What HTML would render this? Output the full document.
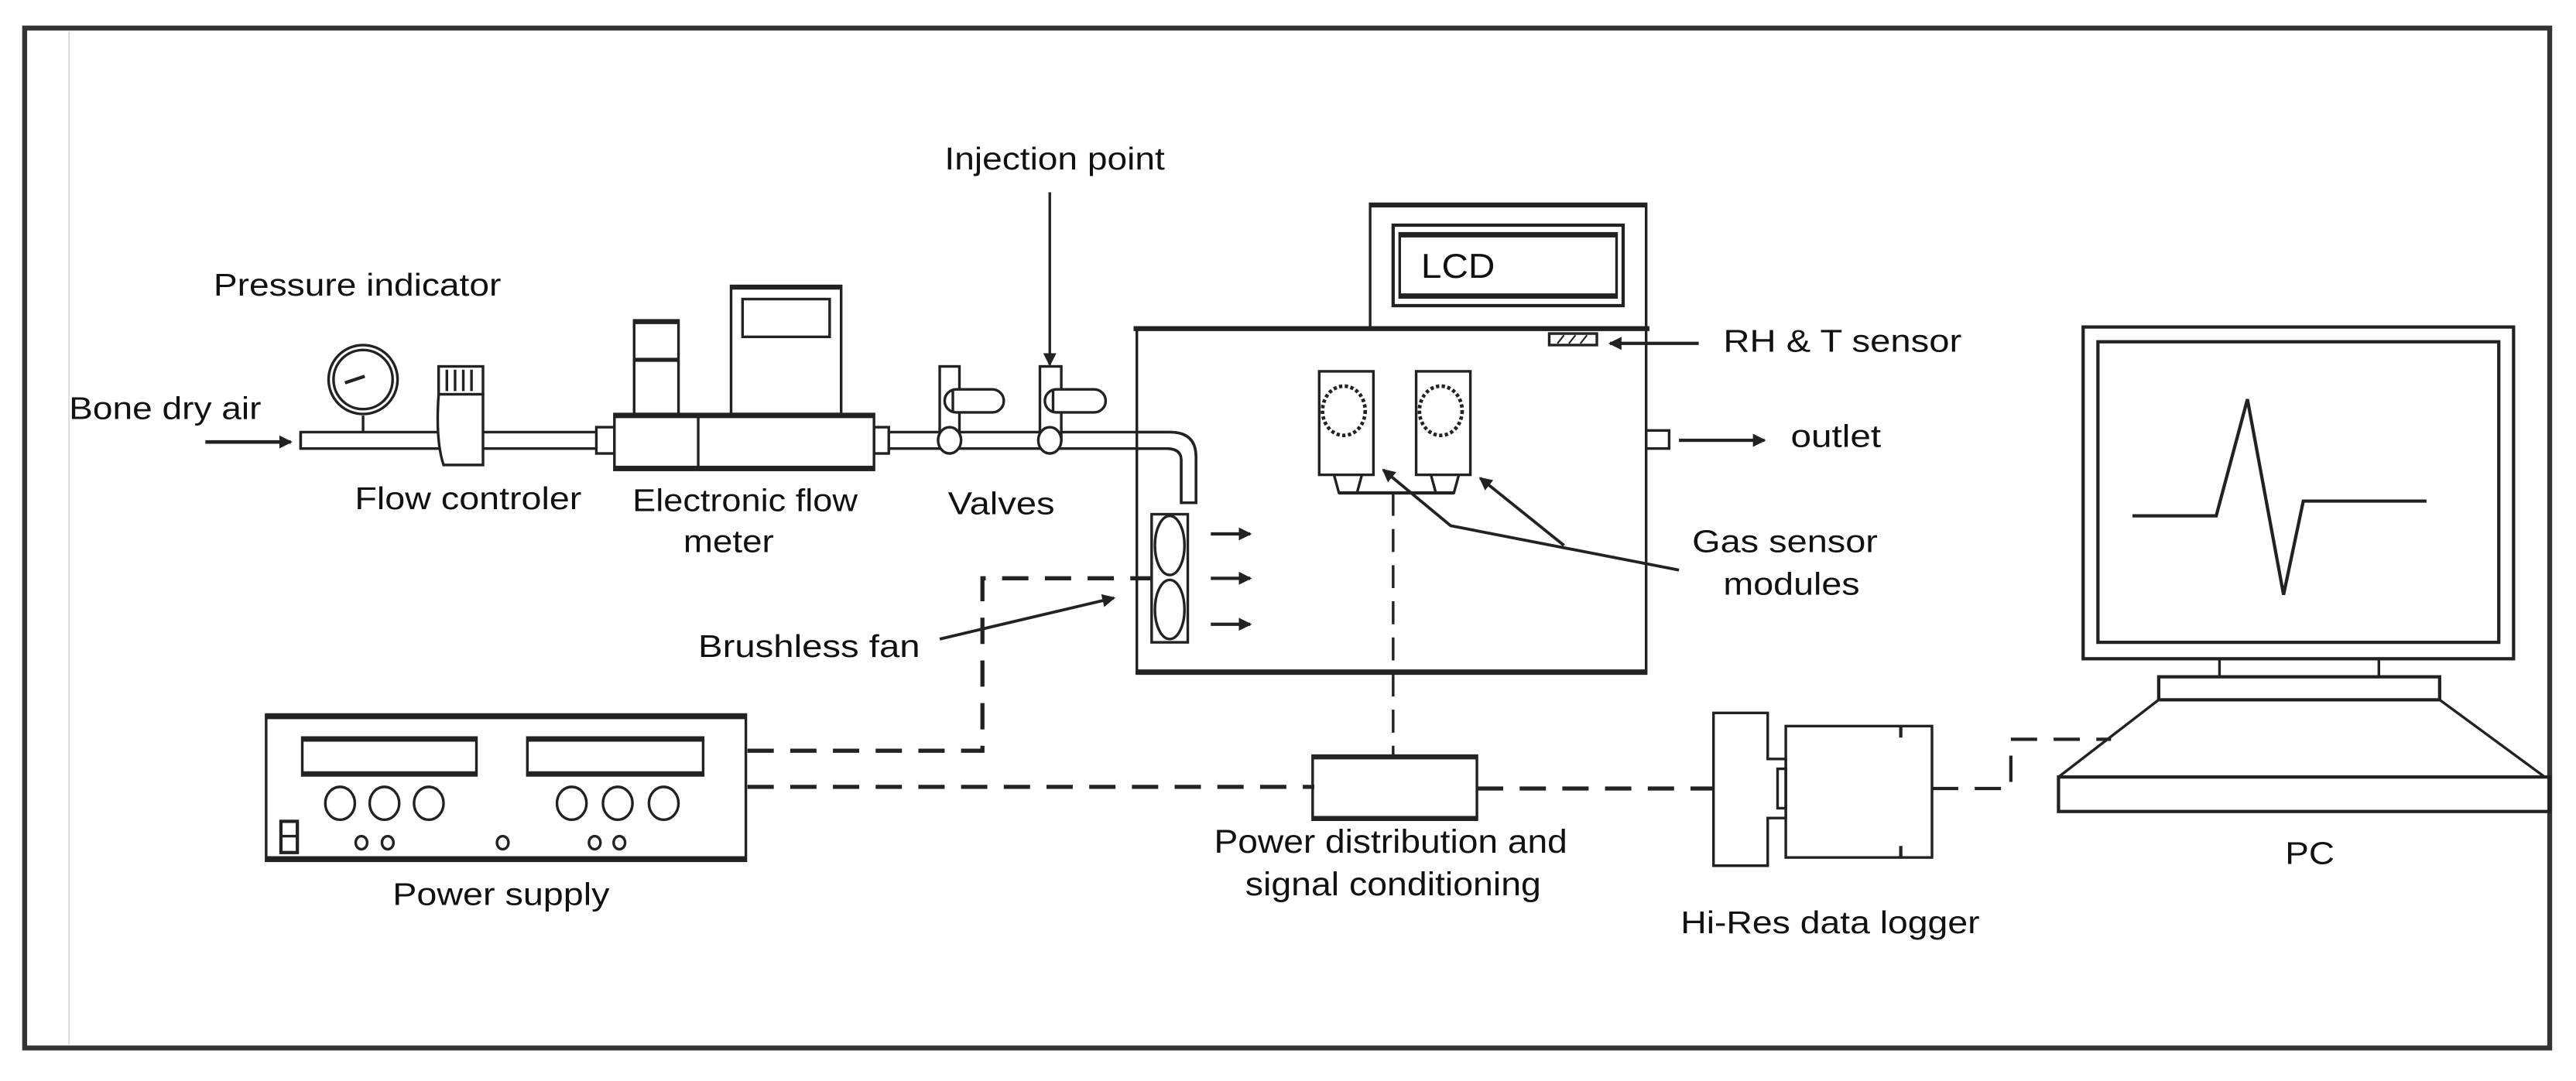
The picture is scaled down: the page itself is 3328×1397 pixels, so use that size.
<!DOCTYPE html>
<html><head><meta charset="utf-8"><style>html,body{margin:0;padding:0;background:#fff}svg{display:block}</style></head>
<body>
<svg width="3328" height="1397" viewBox="0 0 1568 658" xmlns="http://www.w3.org/2000/svg" font-family="Liberation Sans, Arial, sans-serif" font-size="19" fill="none" stroke="#222" stroke-width="1.6">
<defs><marker id="ah" markerWidth="8" markerHeight="8" refX="7" refY="4" orient="auto" markerUnits="userSpaceOnUse"><path d="M0,0 L8,4 L0,8 z" fill="#222" stroke="none"/></marker></defs>
<rect x="0" y="0" width="1568" height="658" fill="#fff" stroke="none"/>
<!-- frame -->
<rect x="15" y="17" width="1537" height="621" stroke="#333" stroke-width="3"/>
<line x1="42" y1="19" x2="42" y2="636" stroke="#ddd" stroke-width="1"/>

<!-- arrows -->
<line x1="639" y1="117" x2="639" y2="222" marker-end="url(#ah)"/>
<line x1="125" y1="269" x2="177" y2="269" stroke-width="2.2" marker-end="url(#ah)"/>

<!-- pipe -->
<path d="M183,263 H712 Q728,263 728,278 V306 H719 V280 Q719,273 710,273 H183 Z" fill="#fff"/>
<line x1="183" y1="263" x2="183" y2="273"/>
<!-- gauge -->
<line x1="221" y1="253" x2="221" y2="263"/>
<circle cx="221" cy="231" r="21" fill="#fff"/>
<circle cx="221" cy="231" r="18"/>
<path d="M210,233 L222,229" stroke-width="2"/>
<!-- flow controller -->
<rect x="267" y="223" width="27" height="17" fill="#fff"/>
<line x1="272" y1="225" x2="272" y2="238"/><line x1="277" y1="225" x2="277" y2="238"/><line x1="282" y1="225" x2="282" y2="238"/><line x1="287" y1="225" x2="287" y2="238"/>
<path d="M267,240 H294 V283 H270 Q265,268 267,240 Z" fill="#fff"/>
<!-- fittings -->
<rect x="363" y="260" width="11" height="16" fill="#fff"/>
<rect x="532" y="260" width="9" height="16" fill="#fff"/>
<!-- flow meter -->
<rect x="386" y="195" width="27" height="57" fill="#fff"/>
<line x1="386" y1="219" x2="413" y2="219" stroke-width="2.5"/>
<line x1="386" y1="196" x2="413" y2="196" stroke-width="2.5"/>
<rect x="445" y="174" width="67" height="78" fill="#fff"/>
<line x1="445" y1="175" x2="512" y2="175" stroke-width="2.5"/>
<rect x="452" y="182" width="53" height="23"/>
<rect x="374" y="252" width="158" height="34" fill="#fff"/>
<line x1="374" y1="253" x2="532" y2="253" stroke-width="3"/>
<line x1="374" y1="285" x2="532" y2="285" stroke-width="3"/>
<line x1="425" y1="252" x2="425" y2="286"/>
<!-- valves -->
<rect x="572" y="223" width="12" height="45" fill="#fff"/>
<rect x="575" y="237" width="36" height="14" rx="7" fill="#fff"/>
<line x1="580" y1="237" x2="580" y2="251"/>
<ellipse cx="578" cy="268" rx="7" ry="8" fill="#fff"/>
<rect x="633" y="223" width="13" height="45" fill="#fff"/>
<rect x="636" y="237" width="37" height="14" rx="7" fill="#fff"/>
<line x1="641" y1="237" x2="641" y2="251"/>
<ellipse cx="639" cy="268" rx="7" ry="8" fill="#fff"/>

<!-- LCD panel -->
<rect x="834" y="124" width="168" height="76" fill="#fff"/>
<line x1="834" y1="125" x2="1002" y2="125" stroke-width="2.5"/>
<rect x="848" y="137" width="140" height="49" stroke-width="2"/>
<rect x="852" y="142" width="132" height="39"/>
<line x1="852" y1="143" x2="984" y2="143" stroke-width="3"/>
<line x1="852" y1="180" x2="984" y2="180" stroke-width="3"/>
<!-- chamber -->
<rect x="692" y="200" width="310" height="210"/>
<line x1="690" y1="200" x2="1004" y2="200" stroke-width="3"/>
<line x1="692" y1="409" x2="1002" y2="409" stroke-width="3"/>
<path d="M692,263 H712 Q728,263 728,278 V306 H719 V280 Q719,273 710,273 H692" />
<!-- RH sensor -->
<rect x="943" y="203" width="29" height="7"/>
<line x1="948" y1="209" x2="952" y2="204" stroke-width="1"/><line x1="955" y1="209" x2="959" y2="204" stroke-width="1"/><line x1="962" y1="209" x2="966" y2="204" stroke-width="1"/>
<line x1="1034" y1="209" x2="980" y2="209" stroke-width="2" marker-end="url(#ah)"/>
<!-- sensor modules -->
<rect x="803" y="226" width="33" height="63"/>
<rect x="862" y="226" width="33" height="63"/>
<ellipse cx="818" cy="250" rx="13" ry="15" stroke-dasharray="2 1.5" stroke-width="2.2"/>
<ellipse cx="877" cy="250" rx="13" ry="15" stroke-dasharray="2 1.5" stroke-width="2.2"/>
<path d="M812,289 L815,300 H826 L829,289 M871,289 L874,300 H885 L888,289"/>
<line x1="815" y1="300" x2="885" y2="300" stroke-width="2"/>
<line x1="848" y1="300" x2="848" y2="460" stroke-dasharray="14 8"/>
<!-- gas sensor arrows -->
<path d="M1022,347 L883,320 L842,286" marker-end="url(#ah)" stroke-width="1.8"/>
<line x1="952" y1="332" x2="901" y2="291" marker-end="url(#ah)" stroke-width="1.8"/>
<!-- outlet -->
<rect x="1002" y="262" width="14" height="11"/>
<line x1="1022" y1="268" x2="1074" y2="268" stroke-width="2" marker-end="url(#ah)"/>
<!-- fan -->
<rect x="701" y="313" width="22" height="78"/>
<ellipse cx="712" cy="332" rx="9" ry="18"/>
<ellipse cx="712" cy="371" rx="9" ry="18"/>
<line x1="737" y1="325" x2="761" y2="325" stroke-width="2" marker-end="url(#ah)"/>
<line x1="737" y1="352" x2="761" y2="352" stroke-width="2" marker-end="url(#ah)"/>
<line x1="737" y1="380" x2="761" y2="380" stroke-width="2" marker-end="url(#ah)"/>
<line x1="572" y1="389" x2="678" y2="364" stroke-width="1.8" marker-end="url(#ah)"/>

<!-- power supply -->
<rect x="162" y="435" width="292" height="89"/>
<line x1="162" y1="436" x2="454" y2="436" stroke-width="3.5"/>
<line x1="162" y1="523" x2="454" y2="523" stroke-width="3.5"/>
<rect x="184" y="449" width="106" height="23"/>
<line x1="184" y1="450" x2="290" y2="450" stroke-width="3"/><line x1="184" y1="471" x2="290" y2="471" stroke-width="3"/>
<rect x="321" y="449" width="107" height="23"/>
<line x1="321" y1="450" x2="428" y2="450" stroke-width="3"/><line x1="321" y1="471" x2="428" y2="471" stroke-width="3"/>
<g stroke-width="1.6">
<ellipse cx="207" cy="489" rx="9" ry="10"/><ellipse cx="234" cy="489" rx="9" ry="10"/><ellipse cx="261" cy="489" rx="9" ry="10"/>
<ellipse cx="348" cy="489" rx="9" ry="10"/><ellipse cx="376" cy="489" rx="9" ry="10"/><ellipse cx="404" cy="489" rx="9" ry="10"/>
<rect x="171" y="500" width="10" height="19" stroke-width="2"/><line x1="171" y1="509" x2="181" y2="509"/>
<ellipse cx="220" cy="513" rx="3.5" ry="4"/><ellipse cx="236" cy="513" rx="3.5" ry="4"/><ellipse cx="306" cy="513" rx="3.5" ry="4"/><ellipse cx="362" cy="513" rx="3.5" ry="4"/><ellipse cx="377" cy="513" rx="3.5" ry="4"/>
</g>
<!-- dashed wiring -->
<path d="M455,457 H598 V352 H701" stroke-dasharray="16 10" stroke-width="2.5"/>
<line x1="455" y1="479" x2="800" y2="479" stroke-dasharray="16 10" stroke-width="2.5"/>
<rect x="799" y="460" width="100" height="39"/>
<line x1="799" y1="461" x2="899" y2="461" stroke-width="2.5"/>
<line x1="799" y1="498" x2="899" y2="498" stroke-width="2.5"/>
<line x1="899" y1="480" x2="1043" y2="480" stroke-dasharray="16 10" stroke-width="2.5"/>
<path d="M1176,480 H1224 V450 H1285" stroke-dasharray="16 10" stroke-width="2"/>
<!-- data logger -->
<path d="M1043,434 H1076 V462 H1087 V498 H1076 V527 H1043 Z"/>
<rect x="1082" y="468" width="5" height="24"/>
<rect x="1087" y="442" width="89" height="80"/>
<line x1="1157" y1="442" x2="1157" y2="449" stroke-width="2"/>
<line x1="1157" y1="515" x2="1157" y2="522" stroke-width="2"/>
<!-- PC -->
<rect x="1268" y="199" width="262" height="202" stroke-width="2"/>
<rect x="1277" y="208" width="244" height="183" stroke-width="2"/>
<polyline points="1298,314 1349,314 1368,243 1390,362 1402,305 1477,305" stroke-width="2"/>
<line x1="1351" y1="401" x2="1351" y2="412"/><line x1="1448" y1="401" x2="1448" y2="412"/>
<rect x="1314" y="412" width="171" height="14" stroke-width="2"/>
<path d="M1314,426 L1253,473 M1485,426 L1549,473"/>
<rect x="1253" y="473" width="299" height="21" stroke-width="2"/>

<!-- labels -->
<g fill="#111" stroke="none">
<text x="575" y="103" textLength="134" lengthAdjust="spacingAndGlyphs">Injection point</text>
<text x="130" y="180" textLength="175" lengthAdjust="spacingAndGlyphs">Pressure indicator</text>
<text x="42" y="255" textLength="117" lengthAdjust="spacingAndGlyphs">Bone dry air</text>
<text x="216" y="310" textLength="138" lengthAdjust="spacingAndGlyphs">Flow controler</text>
<text x="385" y="311" textLength="137" lengthAdjust="spacingAndGlyphs">Electronic flow</text>
<text x="416" y="336" textLength="55" lengthAdjust="spacingAndGlyphs">meter</text>
<text x="577" y="313" textLength="65" lengthAdjust="spacingAndGlyphs">Valves</text>
<text x="865" y="169" font-size="21" textLength="45" lengthAdjust="spacingAndGlyphs">LCD</text>
<text x="1049" y="214" textLength="145" lengthAdjust="spacingAndGlyphs">RH &amp; T sensor</text>
<text x="1090" y="272" textLength="55" lengthAdjust="spacingAndGlyphs">outlet</text>
<text x="1030" y="336" textLength="113" lengthAdjust="spacingAndGlyphs">Gas sensor</text>
<text x="1049" y="362" textLength="83" lengthAdjust="spacingAndGlyphs">modules</text>
<text x="425" y="400" textLength="135" lengthAdjust="spacingAndGlyphs">Brushless fan</text>
<text x="239" y="551" textLength="132" lengthAdjust="spacingAndGlyphs">Power supply</text>
<text x="739" y="519" font-size="20" textLength="215" lengthAdjust="spacingAndGlyphs">Power distribution and</text>
<text x="758" y="545" font-size="20" textLength="180" lengthAdjust="spacingAndGlyphs">signal conditioning</text>
<text x="1023" y="568" textLength="182" lengthAdjust="spacingAndGlyphs">Hi-Res data logger</text>
<text x="1391" y="526" textLength="30" lengthAdjust="spacingAndGlyphs">PC</text>
</g>
</svg>
</body></html>
